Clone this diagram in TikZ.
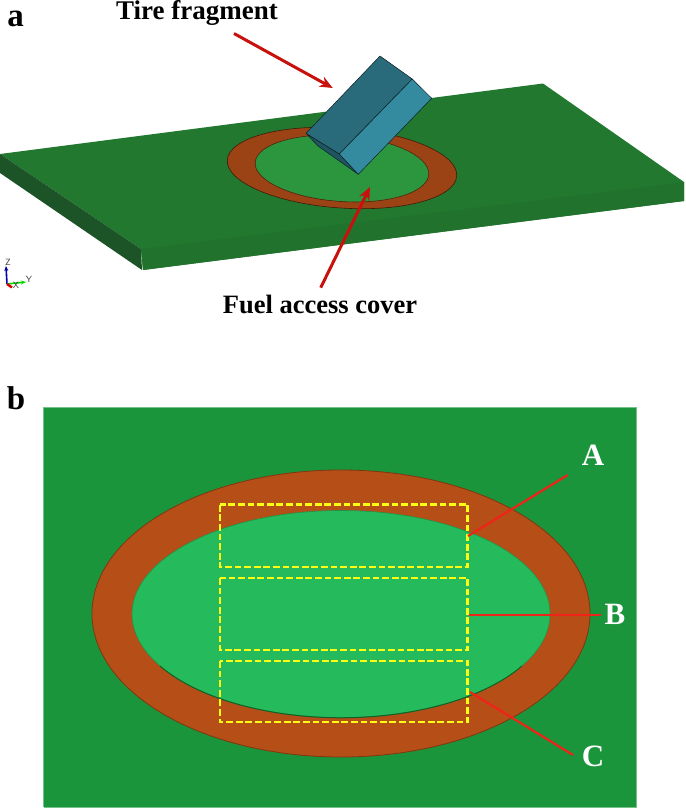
\documentclass[tikz,border=0pt]{standalone}
\usepackage{fontspec}
\setmainfont{Liberation Serif}
\usetikzlibrary{arrows.meta}
\definecolor{platetop}{HTML}{22782F}
\definecolor{platefront}{HTML}{21722D}
\definecolor{plateside}{HTML}{1C5427}
\definecolor{ringa}{HTML}{9C4316}
\definecolor{covera}{HTML}{2C963F}
\definecolor{tiredark}{HTML}{296B7A}
\definecolor{tirelight}{HTML}{348A9E}
\definecolor{tireunder}{HTML}{1F5560}
\definecolor{panelb}{HTML}{1B953B}
\definecolor{ringb}{HTML}{B54E17}
\definecolor{coverb}{HTML}{25BB5C}
\definecolor{arrowred}{HTML}{C8100C}
\definecolor{leadred}{HTML}{EE2418}
\definecolor{boxyellow}{HTML}{FFFF14}
\tikzset{
  x=1pt,y=-1pt,
  lab/.style={font=\bfseries\fontsize{#1}{#1}\selectfont,inner sep=0pt,text=black,anchor=base},
  whitelab/.style={font=\bfseries\fontsize{31}{31}\selectfont,inner sep=0pt,text=white},
  redarrow/.style={draw=arrowred,line width=3pt,-{Stealth[length=13pt,width=11pt]}},
  leadline/.style={draw=leadred,line width=2.2pt},
  yellowbox/.style={draw=boxyellow,line width=2.8pt,dash pattern=on 6.8pt off 2.8pt},
  tireedge/.style={draw=black!70!tiredark,line width=0.5pt,line join=round},
  axislab/.style={font=\sffamily\fontsize{9}{9}\selectfont,inner sep=0pt,text=black!75}
}
\begin{document}
\begin{tikzpicture}
\useasboundingbox (0,0) rectangle (685,808);
% panel a: plate
\fill[platetop] (0,154) -- (543,83.5) -- (684,182) -- (684,201) -- (143,270) -- (141,249) -- cycle;
\fill[platefront] (141,249) -- (684,182) -- (684,201) -- (143,270) -- cycle;
\fill[plateside] (0,154) -- (141,249) -- (142,270) -- (0,173) -- cycle;
% ring and cover
\begin{scope}[rotate around={-4:(342,168)}]
  \filldraw[fill=ringa,draw=black!60!ringa,line width=0.6pt] (342,168) ellipse [x radius=115, y radius=40];
  \filldraw[fill=covera,draw=black!50!ringa,line width=0.6pt] (342,168.5) ellipse [x radius=87, y radius=33];
\end{scope}
% tire fragment
\coordinate (t1) at (380,56);
\coordinate (t2) at (412.3,79);
\coordinate (t3) at (431.7,98.3);
\coordinate (t4) at (358.3,174.3);
\coordinate (t5) at (339.3,154);
\coordinate (t6) at (306,133.3);
\coordinate (t7) at (318,146);
\filldraw[tireedge,fill=tireunder] (t6) -- (t5) -- (t4) -- (t7) -- cycle;
\filldraw[tireedge,fill=tiredark] (t1) -- (t2) -- (t5) -- (t6) -- cycle;
\filldraw[tireedge,fill=tirelight] (t2) -- (t3) -- (t4) -- (t5) -- cycle;
% labels and arrows of panel a
\node[lab=33] (la) at (15.5,26.5) {a};
\node[lab=27] (ltire) at (197,19.5) {Tire fragment};
\node[lab=26.5] (lfuel) at (320,313.5) {Fuel access cover};
\coordinate (tirefrom) at (234,33.5);
\coordinate (tireto) at (332.7,88);
\coordinate (fuelfrom) at (320.7,287.7);
\coordinate (fuelto) at (370,187);
\draw[redarrow] (tirefrom) -- (tireto);
\draw[redarrow] (fuelfrom) -- (fuelto);
% triad
\coordinate (o) at (7,284);
\coordinate (zt) at (6,266);
\coordinate (yt) at (26,282);
\coordinate (xt) at (12,287.5);
\draw[draw=blue!70!black,line width=1.6pt,-{Stealth[length=5pt,width=4pt]}] (o) -- (zt);
\draw[draw=green!85!black,line width=1.6pt,-{Stealth[length=5pt,width=4pt]}] (o) -- (yt);
\draw[draw=red!85!black,line width=2.4pt] (o) -- (xt);
\node[axislab] (zl) at (8,262) {Z};
\node[axislab] (yl) at (29,279) {Y};
\node[axislab] (xl) at (16,285) {X};
% panel b
\node[lab=33] (lb) at (16,409) {b};
\fill[panelb] (43.5,407) rectangle (636.5,807);
\draw[panelb!60!white,line width=0.6pt] (43.5,807) -- (43.5,407) -- (636.5,407) -- (636.5,807) -- (43.5,807);
\filldraw[fill=ringb,draw=black!30!ringb,line width=0.8pt] (341,613.5) ellipse [x radius=249, y radius=143.5];
\filldraw[fill=coverb,draw=coverb!80!black,line width=0.6pt] (341,614) ellipse [x radius=209, y radius=103.5];
\draw[draw=black!35!panelb,line width=1pt] (160,666) arc [start angle=210,end angle=330,x radius=209,y radius=-103.5];
% yellow boxes
\draw[yellowbox] (220,504.7) rectangle (467.7,567);
\draw[yellowbox] (220,578) rectangle (467.7,650);
\draw[yellowbox] (220,661) rectangle (467.7,722);
% leaders and letters
\node[whitelab] (A) at (593,455) {A};
\node[whitelab] (B) at (615,614) {B};
\node[whitelab] (C) at (593,756) {C};
\coordinate (afree) at (567.7,475);
\coordinate (abox) at (468,536);
\coordinate (bfree) at (601,615);
\coordinate (bbox) at (469,615);
\coordinate (cfree) at (573,755);
\coordinate (cbox) at (470,692);
\draw[leadline] (afree) -- (abox);
\draw[leadline] (bfree) -- (bbox);
\draw[leadline] (cfree) -- (cbox);
\end{tikzpicture}
\end{document}
